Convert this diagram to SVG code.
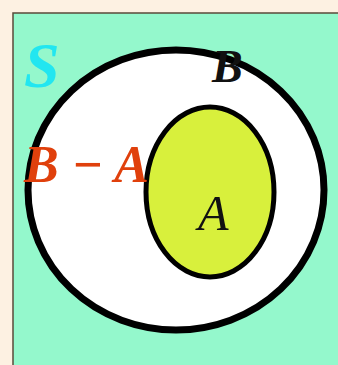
<svg xmlns="http://www.w3.org/2000/svg" width="338" height="365" viewBox="0 0 338 365">
<style>
.lbl{font-family:"Liberation Serif",serif;font-style:italic;}
</style>
<rect x="0" y="0" width="338" height="365" fill="#fdf1e2"/>
<rect x="13" y="13" width="330" height="360" fill="#94f8cc" stroke="#5a4a3a" stroke-width="1.5"/>
<g id="B">
<ellipse cx="176" cy="190" rx="148" ry="140" fill="#ffffff" stroke="#000" stroke-width="7"/>
</g>
<g id="A">
<ellipse cx="210" cy="192" rx="64" ry="85" fill="#d8f03c" stroke="#000" stroke-width="5"/>
</g>
<g id="labels">
<text class="lbl" x="24" y="87" font-size="64" font-weight="bold" fill="#22e6f0">S</text>
<text class="lbl" x="212" y="82" font-size="46" font-weight="bold" fill="#111">B</text>
<text class="lbl" x="24" y="182" font-size="52" font-weight="bold" fill="#e0400c">B − A</text>
<text class="lbl" x="198" y="230" font-size="50" fill="#111">A</text>
</g>
</svg>
